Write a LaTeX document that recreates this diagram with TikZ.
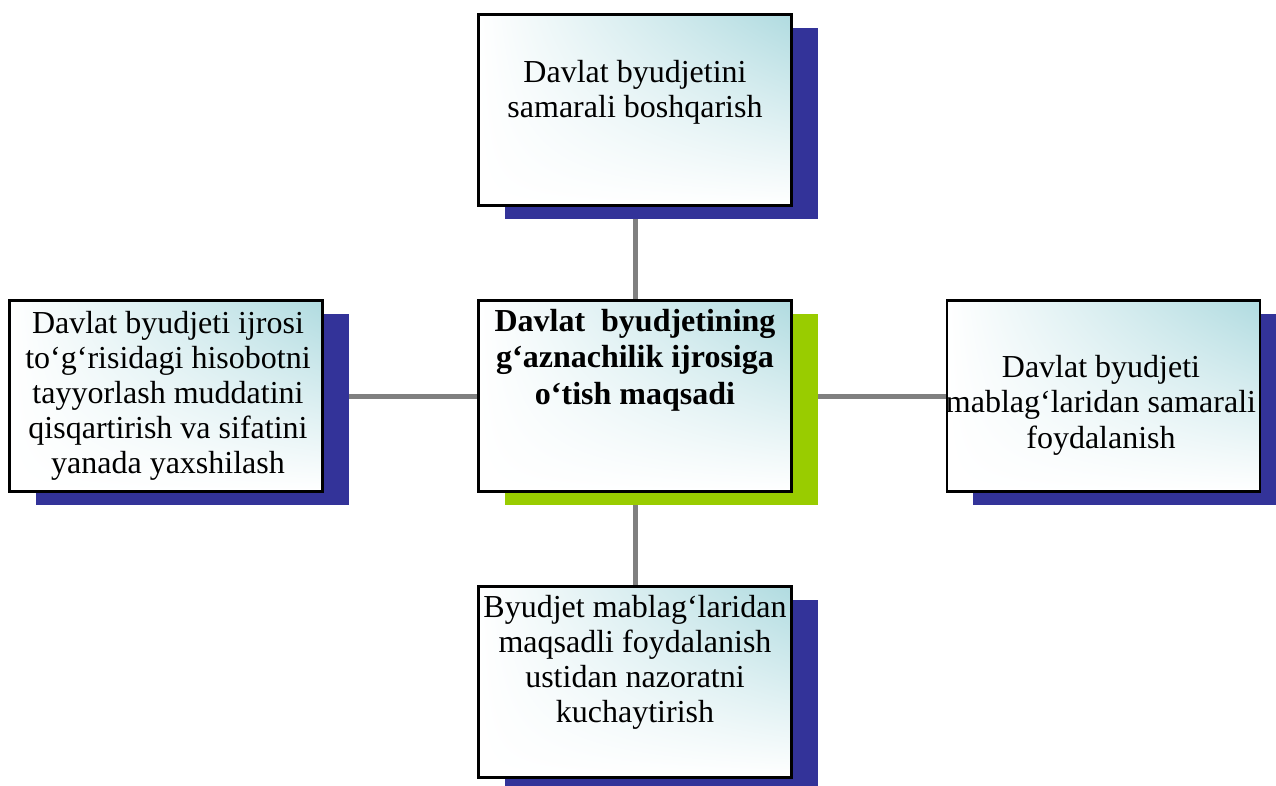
\documentclass[tikz,border=0pt]{standalone}
\usepackage{fontspec}
\setmainfont{Liberation Serif}
\usetikzlibrary{shadows,shadings}
\definecolor{shblue}{RGB}{51,51,153}
\definecolor{shgreen}{RGB}{153,204,0}
\definecolor{tealc}{RGB}{176,219,224}
\definecolor{connc}{RGB}{128,128,128}
\pgfdeclarelayer{bg}
\pgfsetlayers{bg,main}
\tikzset{
  box/.style={draw=black, line width=2.2pt, minimum width=313pt, minimum height=191pt,
    inner sep=0pt, upper right=tealc, upper left=white, lower left=white, lower right=white},
  blueshadow/.style={drop shadow={shadow xshift=26pt, shadow yshift=-13pt, fill=shblue, opacity=1}},
  greenshadow/.style={drop shadow={shadow xshift=26pt, shadow yshift=-13pt, fill=shgreen, opacity=1}},
  txt/.style={align=center, anchor=north, inner sep=0pt, font=\fontsize{32}{35.5}\selectfont},
  link/.style={draw=connc, line width=5pt},
}
\begin{document}
\begin{tikzpicture}[x=1pt, y=-1pt]
\useasboundingbox (0,0) rectangle (1276,785);
\node[box, blueshadow] (top) at (635,110) {};
\node[box, greenshadow] (ctr) at (635,396) {};
\node[box, blueshadow] (left) at (166,396) {};
\node[box, blueshadow] (right) at (1103.5,396) {};
\node[box, blueshadow] (bot) at (635,682) {};
\begin{pgfonlayer}{bg}
\draw[link] (top.south) -- (ctr.north);
\draw[link] (ctr.south) -- (bot.north);
\draw[link] (left.east) -- (ctr.west);
\draw[link] (ctr.east) -- (right.west);
\end{pgfonlayer}
\node[txt] (ttop) at (635,60) {Davlat byudjetini\\samarali boshqarish};
\node[txt, font=\fontsize{32}{36.5}\selectfont\bfseries] (tctr) at (635,309) {Davlat\ \ byudjetining\\g‘aznachilik ijrosiga\\o‘tish maqsadi};
\node[txt, font=\fontsize{32}{35}\selectfont] (tleft) at (168,311) {Davlat byudjeti ijrosi\\to‘g‘risidagi hisobotni\\tayyorlash muddatini\\qisqartirish va sifatini\\yanada yaxshilash};
\node[txt] (tright) at (1101,355) {Davlat byudjeti\\mablag‘laridan samarali\\foydalanish};
\node[txt, font=\fontsize{32}{35}\selectfont] (tbot) at (635,595) {Byudjet mablag‘laridan\\maqsadli foydalanish\\ustidan nazoratni\\kuchaytirish};
\end{tikzpicture}
\end{document}
